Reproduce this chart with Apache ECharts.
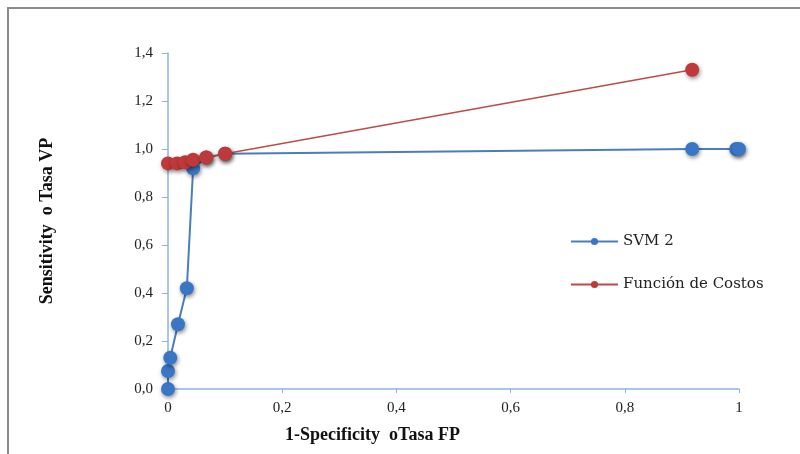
<!DOCTYPE html>
<html><head><meta charset="utf-8">
<script src="https://cdn.jsdelivr.net/npm/echarts@6/dist/echarts.min.js"></script>
<style>html,body{margin:0;padding:0;background:#fff}#c{width:800px;height:454px}</style>
</head><body><div id="c"></div>
<script>
const svmX = [0, 0, 0.004, 0.0175, 0.033, 0.044, 0.067, 0.1, 0.918, 0.995, 1.0];
const svmY = [0, 0.075, 0.13, 0.27, 0.42, 0.92, 0.965, 0.98, 1.0, 1.0, 1.0];
const costX = [0, 0.016, 0.03, 0.044, 0.067, 0.1, 0.918];
const costY = [0.94, 0.94, 0.945, 0.955, 0.965, 0.98, 1.33];
const seriesNames = ['SVM 2', 'Función de Costos'];
const xTicks = [0, 0.2, 0.4, 0.6, 0.8, 1];
const yTicks = [0, 0.2, 0.4, 0.6, 0.8, 1.0, 1.2, 1.4];
const xTitle = '1-Specificity  oTasa FP';
const yTitle = 'Sensitivity  o Tasa VP';

const zip = (a, b) => a.map((v, i) => [v, b[i]]);
const fontFam = '"Liberation Serif", "DejaVu Serif", serif';
const shadow = {shadowBlur: 4, shadowColor: 'rgba(0,0,0,0.45)', shadowOffsetX: 1, shadowOffsetY: 2};
const chart = echarts.init(document.getElementById('c'));
chart.setOption({
  animation: false,
  backgroundColor: '#fff',
  graphic: [
    {type: 'line', shape: {x1: 7, y1: 8, x2: 800, y2: 8}, style: {stroke: '#8a8a8a', lineWidth: 2}},
    {type: 'line', shape: {x1: 8, y1: 7, x2: 8, y2: 454}, style: {stroke: '#8a8a8a', lineWidth: 2}}
  ],
  grid: {left: 168, right: 61, top: 53, bottom: 65},
  legend: {
    orient: 'vertical', left: 565, top: 229, itemGap: 28,
    itemWidth: 47, itemHeight: 9,
    textStyle: {fontFamily: '"DejaVu Serif", serif', fontSize: 15, color: '#222'},
    data: seriesNames
  },
  xAxis: {
    type: 'value', min: 0, max: 1, interval: 0.2,
    name: xTitle, nameLocation: 'middle', nameGap: 37,
    nameTextStyle: {fontFamily: fontFam, fontWeight: 'bold', fontSize: 18, color: '#111', padding: [0, 162, 0, 0]},
    axisLine: {show: true, lineStyle: {color: '#8db3e2', width: 1.5}},
    axisTick: {show: true, length: 4, lineStyle: {color: '#8db3e2'}},
    splitLine: {show: false},
    axisLabel: {fontFamily: fontFam, fontSize: 15, color: '#222', margin: 12,
      formatter: v => (v === 0 || v === 1) ? String(v) : v.toFixed(1).replace('.', ',')}
  },
  yAxis: {
    type: 'value', min: 0, max: 1.4, interval: 0.2,
    name: yTitle, nameLocation: 'middle', nameGap: 112, nameRotate: 90,
    nameTextStyle: {fontFamily: fontFam, fontWeight: 'bold', fontSize: 18, color: '#111'},
    axisLine: {show: true, lineStyle: {color: '#8db3e2', width: 1.5}},
    axisTick: {show: true, length: 6, lineStyle: {color: '#8db3e2'}},
    splitLine: {show: false},
    axisLabel: {fontFamily: fontFam, fontSize: 15, color: '#222', margin: 15,
      formatter: v => v.toFixed(1).replace('.', ',')}
  },
  series: [
    {
      name: seriesNames[0], type: 'line', data: zip(svmX, svmY),
      symbol: 'circle', symbolSize: 14,
      lineStyle: {color: '#4a7ebb', width: 2},
      itemStyle: Object.assign({color: '#3a76c6'}, shadow),
      z: 2
    },
    {
      name: seriesNames[1], type: 'line', data: zip(costX, costY),
      symbol: 'circle', symbolSize: 14,
      lineStyle: {color: '#be4b48', width: 1.5},
      itemStyle: Object.assign({color: '#c0393a'}, shadow),
      z: 3
    }
  ]
});
</script></body></html>
